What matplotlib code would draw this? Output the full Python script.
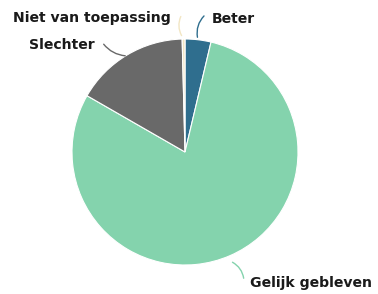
import matplotlib
matplotlib.use("Agg")
import matplotlib.pyplot as plt

categories = ["Beter", "Gelijk gebleven", "Slechter", "Niet van toepassing"]
values = [3.7, 79.6, 16.3, 0.4]
colors = ["#2f6e8e", "#84d3ad", "#696969", "#f2e6c4"]

W, H = 378, 294
fig = plt.figure(figsize=(W / 100, H / 100), dpi=100)
ax = fig.add_axes([0, 0, 1, 1])
cx, cy, r = 185, 152, 113


def P(x, y):
    return (x, H - y)


wedges, _ = ax.pie(values, colors=colors, startangle=90, counterclock=False,
                   center=P(cx, cy), radius=r,
                   wedgeprops=dict(edgecolor="white", linewidth=0.8))
ax.set_xlim(0, W)
ax.set_ylim(0, H)
ax.set_aspect("equal")
ax.axis("off")

font = dict(family="DejaVu Sans", weight="bold", size=10.1, color="#1a1a1a")
label_specs = [
    (categories[0], (212, 19), "left", (206, 14), (198, 40), 0.3),
    (categories[1], (250, 283), "left", (244, 281), (230, 261), 0.3),
    (categories[2], (95, 45), "right", (102, 42), (128, 56), 0.25),
    (categories[3], (171, 18), "right", (182, 14), (183, 38), 0.3),
]
for (text, pos, ha, lstart, lend, rad), col in zip(label_specs, colors):
    ax.text(*P(*pos), text, ha=ha, va="center", **font)
    ax.annotate("", xy=P(*lend), xytext=P(*lstart),
                arrowprops=dict(arrowstyle="-", color=col, lw=1,
                                connectionstyle=f"arc3,rad={rad}"))

fig.savefig("out.png", dpi=100)
